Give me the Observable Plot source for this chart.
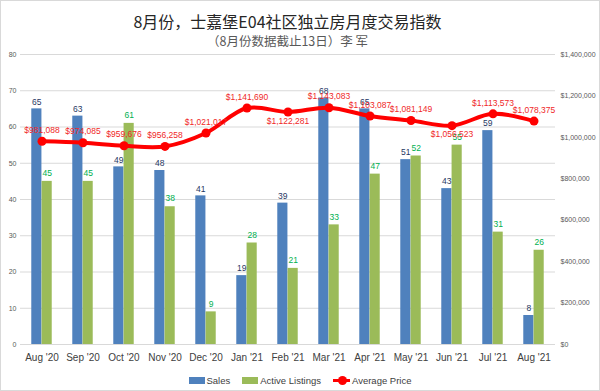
<!DOCTYPE html>
<html>
<head>
<meta charset="utf-8">
<script src="https://cdn.jsdelivr.net/npm/d3@7"></script>
<script src="https://cdn.jsdelivr.net/npm/@observablehq/plot@0.6"></script>
<style>
  html, body { margin: 0; padding: 0; background: #fff; }
  #wrap { position: relative; width: 600px; height: 391px; overflow: hidden; font-family: "Liberation Sans", sans-serif; }
  #frame { position: absolute; left: 0; top: 0; right: 0; bottom: 0; border: 1px solid #d9d9d9; box-sizing: border-box; pointer-events: none; }
  #titles { height: 50px; box-sizing: border-box; padding: 11px 45px 0 20px; text-align: center; font-family: "Noto Sans CJK SC", sans-serif; }
  #title { font-size: 16px; line-height: 20px; color: #262626; }
  #subtitle { font-size: 12.5px; line-height: 16px; margin-top: 2px; color: #595959; }
  #legend { height: 23px; display: flex; justify-content: center; align-items: center; font-size: 9.5px; color: #404040; gap: 12px; padding-top: 2px; box-sizing: border-box; }
  .item { display: flex; align-items: center; }
  .sw { display: inline-block; width: 16px; height: 7px; margin-right: 2px; }
  .ln { position: relative; display: inline-block; width: 17px; height: 3px; background: #ff0000; margin-right: 2px; }
  .ln::after { content: ""; position: absolute; left: 4.5px; top: -3px; width: 9px; height: 9px; border-radius: 50%; background: #ff0000; }
</style>
</head>
<body>
<div id="wrap">
  <div id="titles">
    <div id="title">8月份，士嘉堡E04社区独立房月度交易指数</div>
    <div id="subtitle">（8月份数据截止13日）李 军</div>
  </div>
  <div id="chart"></div>
  <div id="legend">
    <span class="item"><span class="sw" style="background:#4f81bd"></span>Sales</span>
    <span class="item"><span class="sw" style="background:#9bbb59"></span>Active Listings</span>
    <span class="item"><span class="ln"></span>Average Price</span>
  </div>
  <div id="frame"></div>
</div>
<script>
const months = ["Aug '20","Sep '20","Oct '20","Nov '20","Dec '20","Jan '21","Feb '21","Mar '21","Apr '21","May '21","Jun '21","Jul '21","Aug '21"];
const sales = [65, 63, 49, 48, 41, 19, 39, 68, 65, 51, 43, 59, 8];
const activeListings = [45, 45, 61, 38, 9, 28, 21, 33, 47, 52, 55, 31, 26];
const avgPrice = [981088, 974085, 959676, 956258, 1021017, 1141690, 1122281, 1143083, 1103087, 1081149, 1056523, 1113573, 1078375];
const countTicks = [0, 10, 20, 30, 40, 50, 60, 70, 80];
const priceTicks = [0, 200000, 400000, 600000, 800000, 1000000, 1200000, 1400000];
const priceLabelsBelow = ["Feb '21", "Jun '21"];

const countMax = 80, priceMax = 1400000;
const toY = p => p / priceMax * countMax;
const data = months.map((m, i) => ({month: m, sales: sales[i], active: activeListings[i], price: avgPrice[i]}));

const W = 600, mL = 20, mR = 45;
const bw = (W - mL - mR) / months.length;
const w = 10.3;
const fmtPrice = p => "$" + d3.format(",")(p);
const font = "'Liberation Sans', sans-serif";

const chart = Plot.plot({
  width: W,
  height: 318,
  marginTop: 4,
  marginBottom: 24,
  marginLeft: mL,
  marginRight: mR,
  style: {fontFamily: font, background: "transparent"},
  x: {type: "band", domain: months, padding: 0},
  y: {domain: [0, countMax]},
  marks: [
    Plot.gridY(countTicks, {stroke: "#d9d9d9", strokeOpacity: 1}),
    Plot.axisY(countTicks, {anchor: "left", tickSize: 0, tickPadding: 4, fontSize: 7, color: "#595959", label: null}),
    Plot.axisY(priceTicks.map(toY), {anchor: "right", tickSize: 0, tickPadding: 5, fontSize: 7, color: "#595959", label: null,
      tickFormat: v => fmtPrice(Math.round(v * priceMax / countMax))}),
    Plot.axisX({tickSize: 0, tickPadding: 9, fontSize: 10, color: "#404040", label: null}),
    Plot.barY(data, {x: "month", y: "sales", fill: "#4f81bd", insetLeft: bw / 2 - w, insetRight: bw / 2}),
    Plot.barY(data, {x: "month", y: "active", fill: "#9bbb59", insetLeft: bw / 2, insetRight: bw / 2 - w}),
    Plot.line(data, {x: "month", y: d => toY(d.price), stroke: "#ff0000", strokeWidth: 4, curve: "catmull-rom"}),
    Plot.dot(data, {x: "month", y: d => toY(d.price), r: 4.5, fill: "#ff0000"}),
    Plot.text(data, {x: "month", y: "sales", text: d => String(d.sales), dx: -w / 2, dy: -7, fontSize: 8.5, fill: "#1f3864"}),
    Plot.text(data, {x: "month", y: "active", text: d => String(d.active), dx: w / 2, dy: -8, fontSize: 8.5, fill: "#00b050"}),
    Plot.text(data, {x: "month", y: d => toY(d.price), text: d => fmtPrice(d.price),
      fontSize: 8.5, fill: "#f02828",
      filter: d => !priceLabelsBelow.includes(d.month), dy: -11}),
    Plot.text(data, {x: "month", y: d => toY(d.price), text: d => fmtPrice(d.price),
      fontSize: 8.5, fill: "#f02828",
      filter: d => priceLabelsBelow.includes(d.month), dy: 9})
  ]
});
document.getElementById("chart").appendChild(chart);
</script>
</body>
</html>
